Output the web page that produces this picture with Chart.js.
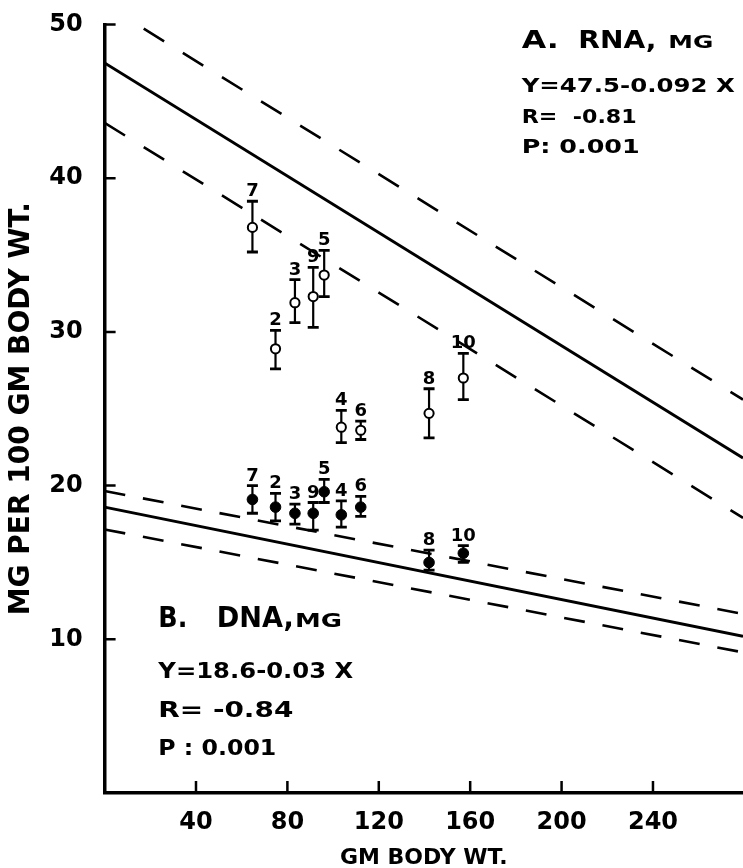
<!DOCTYPE html>
<html>
<head>
<meta charset="utf-8">
<script src="https://cdn.jsdelivr.net/npm/chart.js@4.4.1/dist/chart.umd.min.js"></script>
<style>
  html, body { margin: 0; padding: 0; background: #fff; }
</style>
</head>
<body>
<canvas id="chart" width="743" height="868"></canvas>
<script>
// ── DATOS ──
// group number and body weight (gm) of each group
const groups = ["7", "2", "3", "9", "5", "4", "6", "8", "10"];
const bodyWt = [64.7, 74.8, 83.3, 91.3, 96.1, 103.6, 112.1, 142.0, 157.0];

// A. RNA, mg per 100 gm body wt: mean, top and bottom of the bar
const rnaMean = [36.8, 28.9, 31.9, 32.3, 33.7, 23.8, 23.6, 24.7, 27.0];
const rnaHigh = [38.5, 30.1, 33.4, 34.2, 35.3, 24.9, 24.2, 26.3, 28.6];
const rnaLow = [35.2, 27.6, 30.6, 30.3, 32.3, 22.8, 23.0, 23.1, 25.6];

// B. DNA, mg per 100 gm body wt
const dnaMean = [19.1, 18.6, 18.2, 18.2, 19.6, 18.1, 18.6, 15.0, 15.6];
const dnaHigh = [20.0, 19.5, 18.8, 18.9, 20.4, 19.0, 19.3, 15.8, 16.1];
const dnaLow = [18.2, 17.7, 17.5, 17.1, 18.9, 17.3, 18.0, 14.5, 15.0];

// regression lines and limit lines, value at each end of lineX
const lineX = [0, 279.4];
const rnaFit = [47.5, 21.8];
const rnaUpper = [51.3, 25.6];
const rnaLower = [43.6, 17.9];
const dnaFit = [18.6, 10.2];
const dnaUpper = [19.65, 11.65];
const dnaLower = [17.15, 9.15];

const xTicks = [40, 80, 120, 160, 200, 240];
const yTicks = [10, 20, 30, 40, 50];

const FONT = "'DejaVu Sans', sans-serif";

const pts = ys => bodyWt.map((x, i) => ({ x: x, y: ys[i] }));
const seg = ys => lineX.map((x, i) => ({ x: x, y: ys[i] }));

const lineSet = (ys, dash, w) => ({
    data: seg(ys), showLine: true, pointRadius: 0, pointHoverRadius: 0,
    borderColor: "#000", borderWidth: w, borderDash: dash, fill: false
});

// texts beside the lines: [text, x, baseline, font size, width]
const notes = [
    ["A.", 521.7, 48, 24, 37],
    ["RNA,", 578.3, 48, 24, 78],
    ["MG", 668.3, 48, 17, 45],
    ["Y=47.5-0.092 X", 521.7, 92, 20, 213],
    ["R=  -0.81", 521.7, 123, 20, 115],
    ["P: 0.001", 521.7, 153, 20, 118],
    ["B.", 158.3, 627, 28, 29],
    ["DNA,", 216.7, 627, 28, 77],
    ["MG", 295, 627, 19, 47],
    ["Y=18.6-0.03 X", 158.3, 678, 22, 195],
    ["R= -0.84", 158.3, 717, 22, 135],
    ["P : 0.001", 158.3, 755, 22, 118]
];

const extras = {
    id: "extras",
    beforeDraw(chart) {
        const ctx = chart.ctx;
        ctx.save();
        ctx.fillStyle = "#fff";
        ctx.fillRect(0, 0, chart.width, chart.height);
        ctx.restore();
    },
    beforeDatasetsDraw(chart) {
        // error bars
        const ctx = chart.ctx;
        const sx = chart.scales.x, sy = chart.scales.y;
        ctx.save();
        ctx.strokeStyle = "#000";
        chart.data.datasets.forEach(ds => {
            if (!ds.errHigh) return;
            ds.data.forEach((p, i) => {
                const px = sx.getPixelForValue(p.x);
                const top = sy.getPixelForValue(ds.errHigh[i]);
                const bot = sy.getPixelForValue(ds.errLow[i]);
                ctx.lineWidth = 2.2;
                ctx.beginPath();
                ctx.moveTo(px, top);
                ctx.lineTo(px, bot);
                ctx.stroke();
                ctx.lineWidth = 2.8;
                ctx.beginPath();
                ctx.moveTo(px - 5.5, top);
                ctx.lineTo(px + 5.5, top);
                ctx.moveTo(px - 5.5, bot);
                ctx.lineTo(px + 5.5, bot);
                ctx.stroke();
            });
        });
        ctx.restore();
    },
    afterDraw(chart) {
        const ctx = chart.ctx;
        const sx = chart.scales.x, sy = chart.scales.y;
        const area = chart.chartArea;
        ctx.save();
        ctx.strokeStyle = "#000";
        ctx.fillStyle = "#000";
        ctx.lineWidth = 2.5;
        // tick marks pointing into the plot
        ctx.beginPath();
        xTicks.forEach(v => {
            const px = sx.getPixelForValue(v);
            ctx.moveTo(px, area.bottom);
            ctx.lineTo(px, area.bottom - 12);
        });
        yTicks.forEach(v => {
            const py = sy.getPixelForValue(v);
            ctx.moveTo(area.left, py);
            ctx.lineTo(area.left + 11, py);
        });
        ctx.stroke();

        // group numbers over the bars
        ctx.font = "bold 18px " + FONT;
        ctx.textAlign = "center";
        ctx.textBaseline = "alphabetic";
        chart.data.datasets.forEach(ds => {
            if (!ds.errHigh) return;
            ds.data.forEach((p, i) => {
                ctx.fillText(groups[i], sx.getPixelForValue(p.x), sy.getPixelForValue(ds.errHigh[i]) - 5);
            });
        });

        // equations
        ctx.textAlign = "left";
        notes.forEach(([s, x, y, size, w]) => {
            ctx.font = "bold " + size + "px " + FONT;
            const k = w / ctx.measureText(s).width;
            ctx.save();
            ctx.translate(x, y);
            ctx.scale(k, 1);
            ctx.fillText(s, 0, 0);
            ctx.restore();
        });
        ctx.restore();
    }
};

new Chart(document.getElementById("chart"), {
    type: "scatter",
    data: {
        datasets: [
            lineSet(rnaFit, [], 3),
            lineSet(rnaUpper, [24, 22], 2.6),
            lineSet(rnaLower, [24, 22], 2.6),
            lineSet(dnaFit, [], 3),
            lineSet(dnaUpper, [21, 18], 2.6),
            lineSet(dnaLower, [21, 18], 2.6),
            {
                data: pts(rnaMean), errHigh: rnaHigh, errLow: rnaLow,
                pointRadius: 4.6, pointBackgroundColor: "#fff", pointBorderColor: "#000",
                pointBorderWidth: 2
            },
            {
                data: pts(dnaMean), errHigh: dnaHigh, errLow: dnaLow,
                pointRadius: 5.3, pointBackgroundColor: "#000", pointBorderColor: "#000",
                pointBorderWidth: 1
            }
        ]
    },
    plugins: [extras],
    options: {
        responsive: false,
        animation: false,
        devicePixelRatio: 1,
        layout: { autoPadding: false, padding: { top: 24.5, left: 0, right: 0, bottom: 0 } },
        plugins: { legend: { display: false }, tooltip: { enabled: false } },
        scales: {
            x: {
                type: "linear", min: 0, max: 279.4,
                afterBuildTicks: s => { s.ticks = xTicks.map(v => ({ value: v })); },
                afterFit: s => { s.height = 75; s.paddingLeft = 0; s.paddingRight = 0; },
                grid: { display: true, drawOnChartArea: false, drawTicks: false },
                border: { display: true, color: "#000", width: 3.5 },
                ticks: { color: "#000", padding: 15, font: { family: FONT, size: 24, weight: "bold" } },
                title: {
                    display: true, text: "GM BODY WT.", color: "#000",
                    font: { family: FONT, size: 22, weight: "bold", lineHeight: 0.9 },
                    padding: { top: 0, bottom: 0 }
                }
            },
            y: {
                type: "linear", min: 0, max: 50,
                afterBuildTicks: s => { s.ticks = yTicks.map(v => ({ value: v })); },
                afterFit: s => { s.width = 104.6; s.paddingTop = 0; s.paddingBottom = 0; },
                grid: { display: true, drawOnChartArea: false, drawTicks: false },
                border: { display: true, color: "#000", width: 3.5 },
                ticks: { color: "#000", padding: 22, font: { family: FONT, size: 24, weight: "bold" } },
                title: {
                    display: true, text: "MG PER 100 GM BODY WT.", color: "#000",
                    font: { family: FONT, size: 28, weight: "bold", lineHeight: 1.2 },
                    padding: { top: 5, bottom: 0 }
                }
            }
        }
    }
});
</script>
</body>
</html>
